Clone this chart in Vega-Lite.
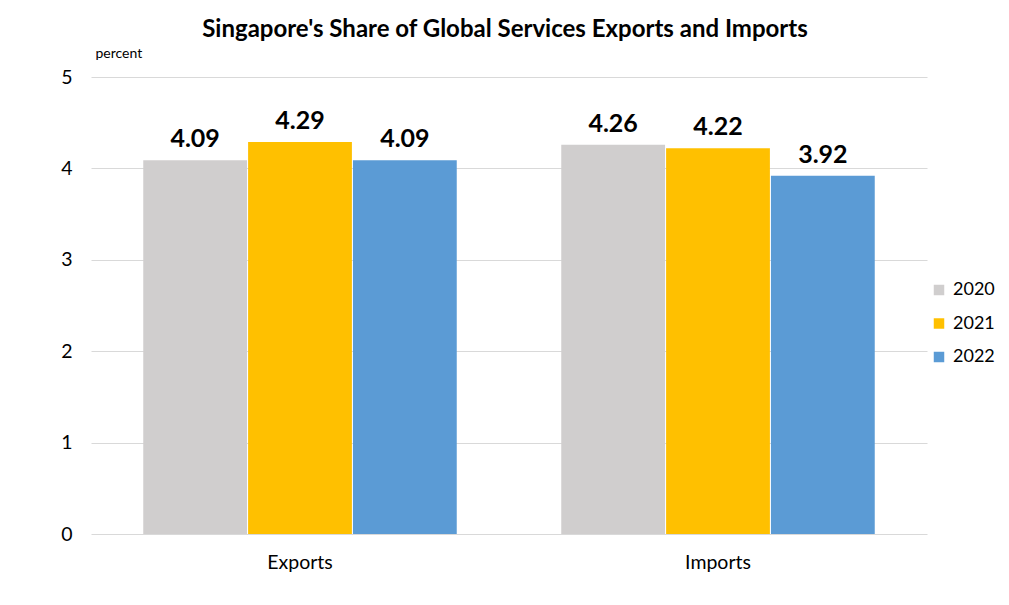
{
  "$schema": "https://vega.github.io/schema/vega-lite/v6.json",
  "width": 836,
  "height": 457,
  "autosize": "none",
  "padding": {"left": 91, "top": 77, "right": 82, "bottom": 71},
  "background": "white",
  "title": {
    "text": "Singapore's Share of Global Services Exports and Imports",
    "font": "Lato",
    "fontSize": 24,
    "fontWeight": "bold",
    "color": "#000000",
    "anchor": "middle",
    "offset": 4,
    "dx": -4
  },
  "data": {
    "values": [
      {"flow": "Exports", "year": "2020", "share": 4.09},
      {"flow": "Exports", "year": "2021", "share": 4.29},
      {"flow": "Exports", "year": "2022", "share": 4.09},
      {"flow": "Imports", "year": "2020", "share": 4.26},
      {"flow": "Imports", "year": "2021", "share": 4.22},
      {"flow": "Imports", "year": "2022", "share": 3.92}
    ]
  },
  "encoding": {
    "x": {
      "field": "flow",
      "type": "nominal",
      "scale": {"paddingInner": 0.25, "paddingOuter": 0.125},
      "axis": {
        "title": null,
        "labelAngle": 0,
        "labelFont": "Lato",
        "labelFontSize": 19.5,
        "labelColor": "#000000",
        "labelPadding": 19,
        "ticks": false,
        "domain": false
      }
    },
    "xOffset": {"field": "year", "type": "nominal", "scale": {"paddingInner": 0.01}},
    "y": {
      "field": "share",
      "type": "quantitative",
      "scale": {"domain": [0, 5]},
      "axis": {
        "title": "percent",
        "titleAngle": 0,
        "titleAlign": "left",
        "titleBaseline": "middle",
        "titleX": 4,
        "titleY": -24,
        "titleFont": "Lato",
        "titleFontSize": 14,
        "titleFontWeight": "normal",
        "titleColor": "#000000",
        "values": [0, 1, 2, 3, 4, 5],
        "labelOverlap": false,
        "labelFont": "Lato",
        "labelFontSize": 19.5,
        "labelColor": "#000000",
        "labelPadding": 19,
        "ticks": false,
        "domain": false,
        "grid": true,
        "gridColor": "#d9d9d9",
        "gridWidth": 1
      }
    }
  },
  "layer": [
    {
      "mark": {"type": "bar"},
      "encoding": {
        "color": {
          "field": "year",
          "type": "nominal",
          "scale": {"domain": ["2020", "2021", "2022"], "range": ["#d0cece", "#ffc000", "#5b9bd5"]},
          "legend": {
            "title": null,
            "orient": "none",
            "legendX": 839,
            "legendY": 204,
            "symbolType": "square",
            "symbolSize": 110,
            "labelFont": "Lato",
            "labelFontSize": 18,
            "labelColor": "#000000",
            "rowPadding": 15.5,
            "labelOffset": 5
          }
        }
      }
    },
    {
      "mark": {"type": "text", "dy": -13, "baseline": "alphabetic", "font": "Lato", "fontSize": 25, "fontWeight": "bold", "color": "#000000"},
      "encoding": {
        "text": {"field": "share", "type": "quantitative", "format": ".2f"}
      }
    }
  ],
  "config": {"view": {"stroke": null}}
}
